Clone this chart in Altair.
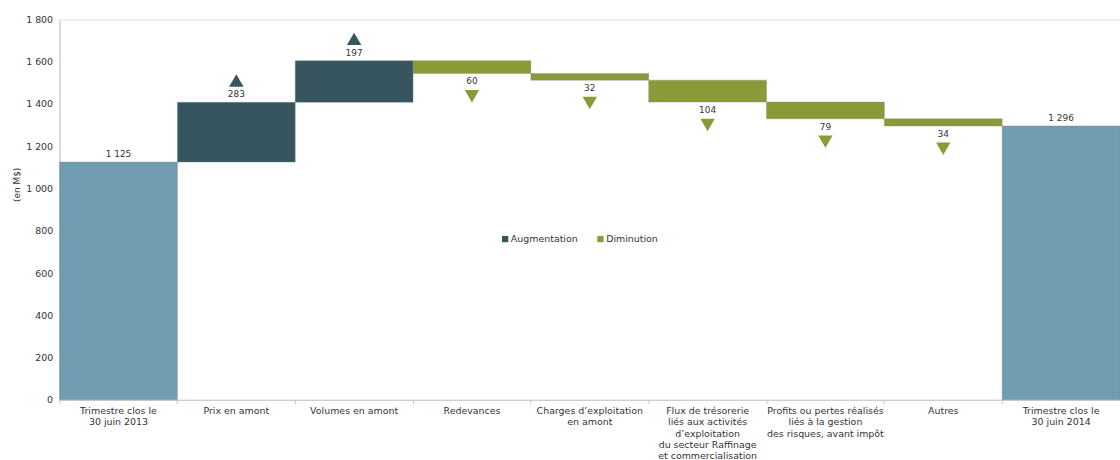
import altair as alt
import pandas as pd

categories = [
    "Trimestre clos le\n30 juin 2013",
    "Prix en amont",
    "Volumes en amont",
    "Redevances",
    "Charges d’exploitation\nen amont",
    "Flux de trésorerie\nliés aux activités\nd’exploitation\ndu secteur Raffinage\net commercialisation",
    "Profits ou pertes réalisés\nliés à la gestion\ndes risques, avant impôt",
    "Autres",
    "Trimestre clos le\n30 juin 2014",
]
amounts = [1125, 283, 197, -60, -32, -104, -79, -34, 1296]
kinds = ["Total", "Augmentation", "Augmentation", "Diminution", "Diminution",
         "Diminution", "Diminution", "Diminution", "Total"]
y_ticks = [0, 200, 400, 600, 800, 1000, 1200, 1400, 1600, 1800]

C_UP = "#36555e"
C_DOWN = "#8b9a36"
C_TOT = "#6f9cb0"
TXT = "#333333"
FONT = "DejaVu Sans"

rows = []
running = 0
for c, a, k in zip(categories, amounts, kinds):
    if k == "Total":
        start, end = 0, a
        running = a
    else:
        start, end = running, running + a
        running = end
    rows.append(dict(cat=c, start=start, end=end, kind=k, amount=abs(a)))
df = pd.DataFrame(rows)

x_enc = alt.X(
    "cat:N", sort=categories,
    scale=alt.Scale(paddingInner=0, paddingOuter=0),
    axis=alt.Axis(
        title=None, labelAngle=0, labelExpr="split(datum.label, '\\n')",
        bandPosition=0, tickSize=4, tickColor="#c8c8c8",
        domainColor="#c8c8c8", labelPadding=2, labelFontSize=9.5,
        labelLineHeight=11.3, labelColor=TXT, labelFont=FONT, labelLimit=0,
        labelBaseline="top",
    ),
)
y_scale = alt.Scale(domain=[0, 1800], nice=False)

base = alt.Chart(df).transform_calculate(
    lbl="replace(format(datum.amount, ','), ',', ' ')"
)

bars = base.mark_bar(stroke="#7f8a8c", strokeWidth=0.4).encode(
    x=x_enc,
    y=alt.Y("start:Q", scale=y_scale, axis=alt.Axis(
        values=y_ticks, title="(en M$)", ticks=False, grid=False,
        domainColor="#c8c8c8", labelPadding=7, labelFontSize=9.5,
        labelColor=TXT, labelFont=FONT,
        labelExpr="replace(format(datum.value, ','), ',', ' ')",
        titleFontSize=9, titleFontWeight="normal", titleColor=TXT,
        titleFont=FONT, titleX=-43, titleY=166, titleAngle=-90,
        titleAlign="center", titleBaseline="middle",
    )),
    y2="end:Q",
    color=alt.Color("kind:N", scale=alt.Scale(
        domain=["Augmentation", "Diminution", "Total"],
        range=[C_UP, C_DOWN, C_TOT]),
        legend=alt.Legend(
            values=["Augmentation", "Diminution"], orient="none",
            legendX=444, legendY=216, direction="horizontal", title=None,
            symbolType="square", symbolSize=40, symbolStrokeWidth=0,
            labelFontSize=9.5, labelColor=TXT, labelFont=FONT,
            columnPadding=18, labelOffset=1,
        )),
)

txt_up = base.transform_filter("datum.kind != 'Diminution'").mark_text(
    baseline="bottom", dy=-3, fontSize=9, color=TXT, font=FONT
).encode(x=alt.X("cat:N", sort=categories), y=alt.Y("end:Q", scale=y_scale), text="lbl:N")

txt_down = base.transform_filter("datum.kind == 'Diminution'").mark_text(
    baseline="top", dy=4, fontSize=9, color=TXT, font=FONT
).encode(x=alt.X("cat:N", sort=categories), y=alt.Y("end:Q", scale=y_scale), text="lbl:N")

tri_up = base.transform_filter("datum.kind == 'Augmentation'").mark_point(
    shape="triangle-up", filled=True, opacity=1, size=210, color=C_UP, yOffset=-22
).encode(x=alt.X("cat:N", sort=categories), y=alt.Y("end:Q", scale=y_scale))

tri_down = base.transform_filter("datum.kind == 'Diminution'").mark_point(
    shape="triangle-down", filled=True, opacity=1, size=210, color=C_DOWN, yOffset=23
).encode(x=alt.X("cat:N", sort=categories), y=alt.Y("end:Q", scale=y_scale))

chart = alt.layer(bars, txt_up, txt_down, tri_up, tri_down).properties(
    width=1068, height=383,
    padding={"left": 60, "top": 18, "right": 0, "bottom": 59},
    autosize=alt.AutoSizeParams(type="none"),
).configure_view(stroke=None).configure(background="white")

chart.save("out.html", embed_options={"renderer": "svg", "actions": False})
